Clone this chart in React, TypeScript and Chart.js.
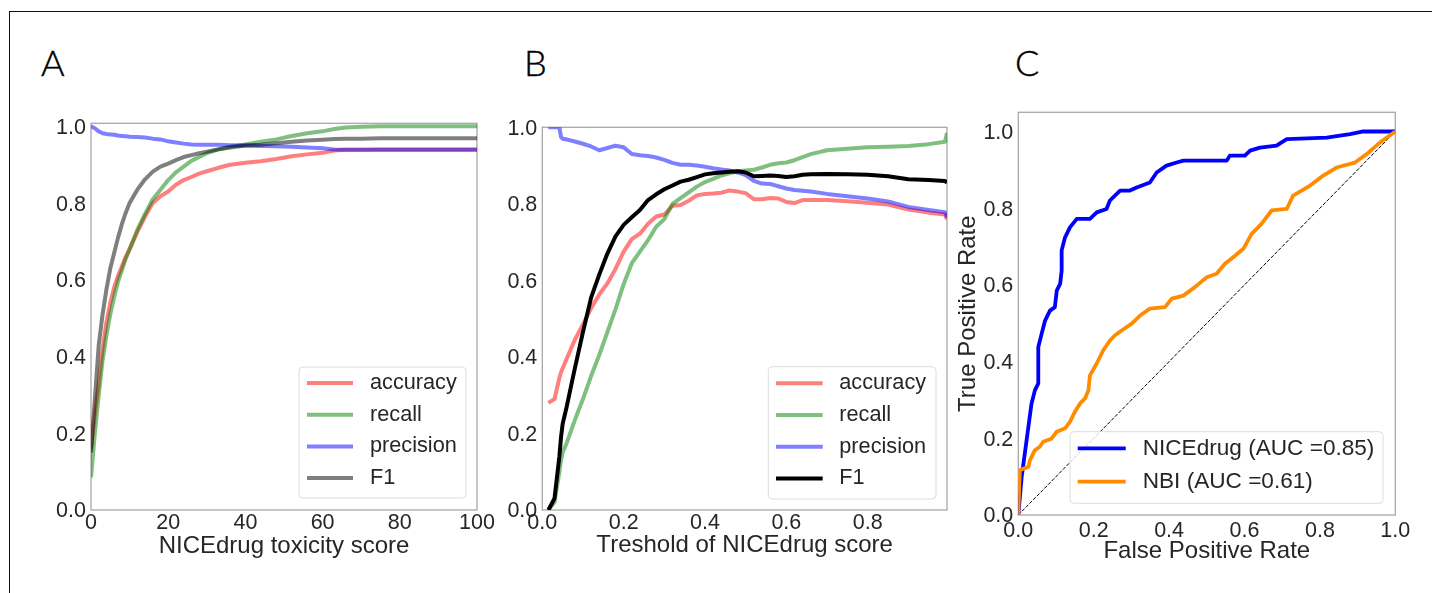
import React, { useEffect, useRef } from "react";
import { Chart, registerables } from "chart.js";
Chart.register(...registerables);

// ---------- Panel A: metrics vs NICEdrug toxicity score ----------
const aScore = [0, 1, 2, 3, 4, 5, 6, 7, 8, 9, 10, 12, 14, 16, 18, 20, 22, 24, 26, 28, 30, 33, 36, 40, 44, 48, 52, 56, 60, 63, 66, 70, 75, 80, 90, 100];
const aAccuracy = [0.16, 0.25, 0.33, 0.42, 0.49, 0.54, 0.58, 0.61, 0.635, 0.66, 0.68, 0.725, 0.765, 0.8, 0.818, 0.83, 0.848, 0.86, 0.868, 0.877, 0.883, 0.892, 0.9, 0.905, 0.909, 0.915, 0.922, 0.927, 0.931, 0.937, 0.939, 0.939, 0.94, 0.94, 0.94, 0.94];
const aRecall = [0.085, 0.2, 0.3, 0.39, 0.455, 0.51, 0.555, 0.595, 0.625, 0.655, 0.68, 0.73, 0.772, 0.81, 0.835, 0.86, 0.88, 0.895, 0.91, 0.92, 0.93, 0.94, 0.947, 0.953, 0.96, 0.966, 0.975, 0.982, 0.987, 0.993, 0.997, 0.999, 1.0, 1.0, 1.0, 1.0];
const aPrecision = [1.0, 0.995, 0.987, 0.982, 0.98, 0.979, 0.978, 0.976, 0.975, 0.974, 0.973, 0.972, 0.971, 0.968, 0.966, 0.961, 0.958, 0.955, 0.953, 0.952, 0.952, 0.952, 0.951, 0.95, 0.949, 0.948, 0.947, 0.945, 0.943, 0.94, 0.939, 0.939, 0.939, 0.939, 0.939, 0.939];
const aF1 = [0.15, 0.29, 0.43, 0.51, 0.575, 0.63, 0.67, 0.71, 0.745, 0.775, 0.8, 0.835, 0.862, 0.882, 0.895, 0.903, 0.912, 0.92, 0.925, 0.93, 0.934, 0.94, 0.945, 0.95, 0.952, 0.956, 0.96, 0.963, 0.965, 0.967, 0.968, 0.968, 0.969, 0.969, 0.969, 0.969];

// ---------- Panel B: metrics vs threshold ----------
const bThreshold = [0.015, 0.03, 0.042, 0.046, 0.05, 0.06, 0.08, 0.1, 0.12, 0.14, 0.16, 0.18, 0.2, 0.22, 0.24, 0.26, 0.28, 0.3, 0.32, 0.34, 0.36, 0.38, 0.4, 0.42, 0.44, 0.46, 0.48, 0.5, 0.52, 0.54, 0.56, 0.58, 0.6, 0.62, 0.64, 0.66, 0.7, 0.75, 0.8, 0.85, 0.9, 0.95, 0.99, 0.995];
const bAccuracy = [0.28, 0.29, 0.345, 0.36, 0.37, 0.395, 0.445, 0.485, 0.527, 0.563, 0.592, 0.63, 0.675, 0.708, 0.722, 0.748, 0.767, 0.772, 0.795, 0.797, 0.808, 0.822, 0.826, 0.827, 0.829, 0.835, 0.832, 0.828, 0.812, 0.812, 0.815, 0.814, 0.805, 0.802, 0.81, 0.81, 0.81, 0.807, 0.803, 0.798, 0.785, 0.777, 0.772, 0.76];
const bRecall = [0.0, 0.02, 0.1, 0.13, 0.15, 0.175, 0.235, 0.29, 0.35, 0.405, 0.465, 0.525, 0.59, 0.645, 0.675, 0.705, 0.74, 0.76, 0.8, 0.815, 0.83, 0.845, 0.857, 0.865, 0.874, 0.88, 0.885, 0.887, 0.889, 0.895, 0.902, 0.906, 0.908, 0.914, 0.922, 0.93, 0.94, 0.944, 0.948, 0.949, 0.951, 0.956, 0.962, 0.985];
const bPrecision = [1.0, 1.0, 1.0, 0.975, 0.97, 0.968, 0.963, 0.957, 0.95, 0.94, 0.946, 0.952, 0.948, 0.93, 0.927, 0.925, 0.921, 0.915, 0.907, 0.902, 0.902, 0.9, 0.897, 0.893, 0.89, 0.887, 0.882, 0.875, 0.86, 0.853, 0.852, 0.846, 0.84, 0.836, 0.834, 0.832, 0.826, 0.82, 0.814, 0.806, 0.792, 0.784, 0.778, 0.765];
const bF1 = [0.0, 0.03, 0.14, 0.19, 0.225, 0.27, 0.37, 0.465, 0.555, 0.615, 0.67, 0.715, 0.745, 0.765, 0.784, 0.81, 0.825, 0.838, 0.848, 0.858, 0.863, 0.87, 0.877, 0.88, 0.882, 0.884, 0.885, 0.882, 0.872, 0.873, 0.874, 0.873, 0.87, 0.872, 0.876, 0.877, 0.878, 0.877, 0.876, 0.872, 0.864, 0.862, 0.86, 0.855];

// ---------- Panel C: ROC curves ----------
const nicedrugFpr = [0, 0.009, 0.022, 0.035, 0.044, 0.053, 0.053, 0.062, 0.071, 0.084, 0.097, 0.102, 0.111, 0.115, 0.115, 0.124, 0.137, 0.155, 0.19, 0.208, 0.234, 0.243, 0.27, 0.296, 0.314, 0.349, 0.367, 0.393, 0.42, 0.438, 0.553, 0.561, 0.601, 0.615, 0.641, 0.685, 0.712, 0.818, 0.88, 0.915, 1.0];
const nicedrugTpr = [0, 0.1, 0.195, 0.29, 0.325, 0.343, 0.438, 0.473, 0.507, 0.533, 0.542, 0.585, 0.603, 0.637, 0.69, 0.724, 0.75, 0.772, 0.772, 0.789, 0.798, 0.82, 0.846, 0.846, 0.854, 0.867, 0.893, 0.911, 0.919, 0.924, 0.924, 0.937, 0.937, 0.95, 0.958, 0.963, 0.98, 0.984, 0.993, 1.0, 1.0];
const nbiFpr = [0, 0.004, 0.027, 0.031, 0.044, 0.057, 0.066, 0.088, 0.102, 0.124, 0.137, 0.15, 0.164, 0.177, 0.186, 0.19, 0.208, 0.225, 0.243, 0.256, 0.274, 0.301, 0.323, 0.349, 0.389, 0.407, 0.438, 0.473, 0.5, 0.526, 0.548, 0.57, 0.597, 0.619, 0.645, 0.672, 0.712, 0.729, 0.774, 0.809, 0.844, 0.893, 0.924, 0.959, 1.0];
const nbiTpr = [0, 0.117, 0.126, 0.143, 0.169, 0.178, 0.191, 0.199, 0.217, 0.226, 0.243, 0.269, 0.291, 0.304, 0.325, 0.364, 0.395, 0.429, 0.455, 0.468, 0.481, 0.499, 0.52, 0.538, 0.542, 0.564, 0.572, 0.598, 0.62, 0.629, 0.655, 0.672, 0.694, 0.733, 0.759, 0.794, 0.798, 0.833, 0.859, 0.885, 0.906, 0.919, 0.941, 0.971, 1.0];
const chanceLine = [0, 1];

const tickTextA = ["0", "20", "40", "60", "80", "100"];

const FONT = "'Liberation Sans', Arial, Helvetica, sans-serif";
const TXT = "#262626";

const pts = (xs: number[], ys: number[]) => xs.map((x, i) => ({ x, y: ys[i] }));

const framePlugin = {
  id: "frame",
  beforeDatasetsDraw(chart: any) {
    const { ctx, chartArea: a } = chart;
    ctx.save();
    ctx.strokeStyle = "#a8a8a8";
    ctx.lineWidth = 1.3;
    ctx.strokeRect(a.left, a.top, a.right - a.left, a.bottom - a.top);
    ctx.restore();
  },
};

const boxLegendPlugin = {
  id: "boxLegend",
  afterDraw(chart: any, _args: any, o: any) {
    if (!o || !o.items) return;
    const { ctx, chartArea: a } = chart;
    const bx = a.right - o.right - o.width;
    const by = a.bottom - o.bottom - o.height;
    ctx.save();
    ctx.beginPath();
    const r = 4;
    ctx.moveTo(bx + r, by);
    ctx.arcTo(bx + o.width, by, bx + o.width, by + o.height, r);
    ctx.arcTo(bx + o.width, by + o.height, bx, by + o.height, r);
    ctx.arcTo(bx, by + o.height, bx, by, r);
    ctx.arcTo(bx, by, bx + o.width, by, r);
    ctx.closePath();
    ctx.fillStyle = "rgba(255,255,255,0.8)";
    ctx.fill();
    ctx.strokeStyle = "#dcdcdc";
    ctx.lineWidth = 1;
    ctx.stroke();
    o.items.forEach((di: number, k: number) => {
      const ds = chart.data.datasets[di];
      const y = by + o.firstRow + k * o.rowGap;
      ctx.beginPath();
      ctx.strokeStyle = ds.borderColor;
      ctx.lineWidth = ds.borderWidth;
      ctx.moveTo(bx + o.lineStart, y);
      ctx.lineTo(bx + o.lineStart + o.lineLen, y);
      ctx.stroke();
      ctx.fillStyle = TXT;
      ctx.font = `${o.fontSize}px ${FONT}`;
      ctx.textBaseline = "middle";
      ctx.textAlign = "left";
      ctx.fillText(ds.label, bx + o.textX, y);
    });
    ctx.restore();
  },
};

function fit(size: number, horizontal: boolean) {
  return (scale: any) => {
    if (horizontal) scale.height = size;
    else scale.width = size;
    scale.paddingLeft = 0;
    scale.paddingRight = 0;
    scale.paddingTop = 0;
    scale.paddingBottom = 0;
  };
}

function axis(opts: any) {
  const { min, max, step, size, horizontal, title, titlePad, tickPad, fmt } = opts;
  return {
    type: "linear",
    min,
    max,
    ticks: {
      stepSize: step,
      includeBounds: false,
      autoSkip: false,
      maxRotation: 0,
      padding: tickPad,
      labelOffset: horizontal ? 0 : 1.5,
      color: TXT,
      font: { family: FONT, size: 21.5 },
      callback: fmt,
    },
    grid: { display: false, drawTicks: false },
    border: { display: false },
    title: title
      ? { display: true, text: title, color: TXT, font: { family: FONT, size: 24 }, padding: titlePad }
      : { display: false },
    afterFit: fit(size, horizontal),
  };
}

const fmt1 = (v: number) => Number(v).toFixed(1);
const fmtA = (v: number) => {
  const i = Math.round(Number(v) / 20);
  return tickTextA[i] ?? String(v);
};

function baseOptions(padding: any, scales: any, legend: any) {
  return {
    animation: false,
    responsive: false,
    devicePixelRatio: 1,
    events: [],
    layout: { padding },
    elements: { line: { tension: 0, borderJoinStyle: "round" }, point: { radius: 0 } },
    plugins: { legend: { display: false }, tooltip: { enabled: false }, boxLegend: legend },
    scales,
  };
}

function useChart(ref: any, cfgFn: () => any) {
  useEffect(() => {
    const chart = new Chart(ref.current, cfgFn());
    return () => chart.destroy();
  }, []);
}

function ChartA() {
  const ref = useRef<HTMLCanvasElement>(null);
  useChart(ref, () => ({
    type: "line",
    data: {
      datasets: [
        { label: "accuracy", data: pts(aScore, aAccuracy), borderColor: "rgba(255,0,0,0.5)", borderWidth: 4, order: 3 },
        { label: "recall", data: pts(aScore, aRecall), borderColor: "rgba(0,128,0,0.5)", borderWidth: 4, order: 2 },
        { label: "precision", data: pts(aScore, aPrecision), borderColor: "rgba(0,0,255,0.5)", borderWidth: 4, order: 1 },
        { label: "F1", data: pts(aScore, aF1), borderColor: "rgba(0,0,0,0.5)", borderWidth: 4, order: 0 },
      ],
    },
    options: baseOptions(
      { top: 33.3, right: 33, left: 0, bottom: 0 },
      {
        x: axis({ min: 0, max: 100, step: 20, size: 70, horizontal: true, title: "NICEdrug toxicity score", titlePad: { top: 0, bottom: 19.6 }, tickPad: 0, fmt: fmtA }),
        y: axis({ min: 0, max: 1.008, step: 0.2, size: 71, horizontal: false, tickPad: 5, fmt: fmt1 }),
      },
      { items: [0, 1, 2, 3], right: 11, bottom: 12, width: 167, height: 131, firstRow: 16, rowGap: 31.7, lineStart: 8, lineLen: 46, textX: 71, fontSize: 21.7 }
    ),
    plugins: [framePlugin, boxLegendPlugin],
  }));
  return <canvas ref={ref} width={490} height={490} style={{ position: "absolute", left: 20, top: 90, width: 490, height: 490 }} />;
}

function ChartB() {
  const ref = useRef<HTMLCanvasElement>(null);
  useChart(ref, () => ({
    type: "line",
    data: {
      datasets: [
        { label: "accuracy", data: pts(bThreshold, bAccuracy), borderColor: "rgba(255,0,0,0.5)", borderWidth: 4, order: 3 },
        { label: "recall", data: pts(bThreshold, bRecall), borderColor: "rgba(0,128,0,0.5)", borderWidth: 4, order: 2 },
        { label: "precision", data: pts(bThreshold, bPrecision), borderColor: "rgba(0,0,255,0.5)", borderWidth: 4, order: 1 },
        { label: "F1", data: pts(bThreshold, bF1), borderColor: "#000000", borderWidth: 4, order: 0 },
      ],
    },
    options: baseOptions(
      { top: 37.3, right: 33, left: 0, bottom: 0 },
      {
        x: axis({ min: 0, max: 0.995, step: 0.2, size: 70, horizontal: true, title: "Treshold of NICEdrug score", titlePad: { top: 0, bottom: 20.6 }, tickPad: 0, fmt: fmt1 }),
        y: axis({ min: 0, max: 1.0, step: 0.2, size: 42.3, horizontal: false, tickPad: 5, fmt: fmt1 }),
      },
      { items: [0, 1, 2, 3], right: 11, bottom: 11, width: 167.7, height: 132.3, firstRow: 16.6, rowGap: 31.7, lineStart: 7.7, lineLen: 46.7, textX: 71, fontSize: 21.7 }
    ),
    plugins: [framePlugin, boxLegendPlugin],
  }));
  return <canvas ref={ref} width={480} height={490} style={{ position: "absolute", left: 500, top: 90, width: 480, height: 490 }} />;
}

function ChartC() {
  const ref = useRef<HTMLCanvasElement>(null);
  useChart(ref, () => ({
    type: "line",
    data: {
      datasets: [
        { label: "NICEdrug (AUC =0.85)", data: pts(nicedrugFpr, nicedrugTpr), borderColor: "#0000ff", borderWidth: 3.8, order: 1 },
        { label: "NBI (AUC =0.61)", data: pts(nbiFpr, nbiTpr), borderColor: "#ff8c00", borderWidth: 3.8, order: 0 },
        { label: "chance", data: pts(chanceLine, chanceLine), borderColor: "#000000", borderWidth: 1, borderDash: [3.7, 1.6], order: 2 },
      ],
    },
    options: baseOptions(
      { top: 22.3, right: 24.7, left: 0, bottom: 0 },
      {
        x: axis({ min: 0, max: 1.0, step: 0.2, size: 65, horizontal: true, title: "False Positive Rate", titlePad: { top: 0, bottom: 13.9 }, tickPad: 3, fmt: fmt1 }),
        y: axis({ min: 0, max: 1.05, step: 0.2, size: 78.3, horizontal: false, title: "True Positive Rate", titlePad: { top: 13.6, bottom: 0 }, tickPad: 5, fmt: fmt1 }),
      },
      { items: [0, 1], right: 12.3, bottom: 11.7, width: 313, height: 71.6, firstRow: 16.6, rowGap: 33.4, lineStart: 7.7, lineLen: 48, textX: 72.7, fontSize: 22.6 }
    ),
    plugins: [framePlugin, boxLegendPlugin],
  }));
  return <canvas ref={ref} width={480} height={490} style={{ position: "absolute", left: 940, top: 90, width: 480, height: 490 }} />;
}

const letterStyle = (left: number): React.CSSProperties => ({
  position: "absolute",
  left,
  top: 44,
  fontFamily: "Lato, 'Open Sans', sans-serif",
  fontWeight: 300,
  fontSize: 36,
  lineHeight: "36px",
  color: "#000",
  WebkitTextStroke: "0.4px #000",
});

export default function App() {
  return (
    <div style={{ position: "absolute", left: 0, top: 0, width: 1432, height: 593, overflow: "hidden", background: "#fff" }}>
      <div style={{ position: "absolute", left: 9, top: 11, width: 1440, height: 600, borderTop: "1.5px solid #111", borderLeft: "1.5px solid #111" }} />
      <div style={letterStyle(41)}>A</div>
      <div style={letterStyle(524)}>B</div>
      <div style={letterStyle(1015)}>C</div>
      <ChartA />
      <ChartB />
      <ChartC />
    </div>
  );
}
